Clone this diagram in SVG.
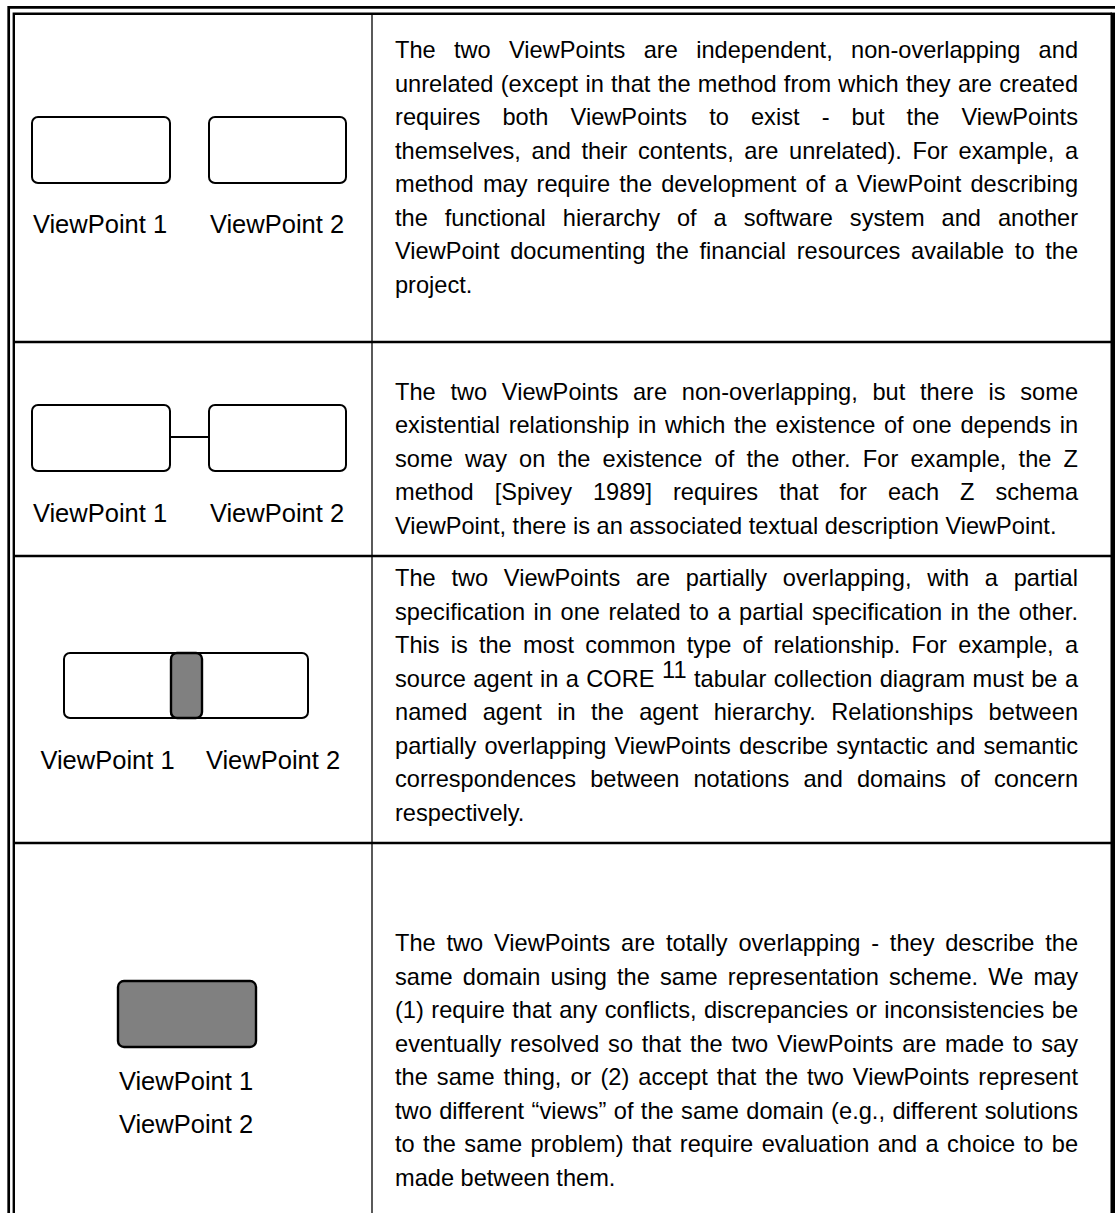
<svg xmlns="http://www.w3.org/2000/svg" width="1115" height="1213" viewBox="0 0 1115 1213">
<style>
.rule{stroke:#000;fill:none}
.box{fill:#fff;stroke:#000;stroke-width:2}
.ov{fill:#808080;stroke:#000;stroke-width:2.4}
.con{stroke:#000;stroke-width:2;fill:none}
.lbl{font-family:"Liberation Sans",Arial,sans-serif;font-size:25.5px;fill:#000;text-anchor:middle}
.body{font-family:"Liberation Sans",Arial,sans-serif;font-size:23.6px;fill:#000}
</style>
<rect width="1115" height="1213" fill="#fff"/>
<g id="frame">
<path class="rule" stroke-width="2.7" d="M8.7,1213 V7.3 H1115"/>
<path class="rule" stroke-width="2.4" d="M13.8,1213 V13.8 H1112"/>
<rect x="1110.5" y="12.6" width="4.5" height="1200.4" fill="#000"/>
<path class="rule" stroke-width="1.3" d="M372,13.8 V1213"/>
<path class="rule" stroke-width="2.7" d="M13.8,342 H1111 M13.8,556 H1111 M13.8,843 H1111"/>
</g>

<g id="row1-vp1"><rect class="box" x="32" y="117" width="138" height="66" rx="6"/><text class="lbl" x="100" y="233">ViewPoint 1</text></g>
<g id="row1-vp2"><rect class="box" x="209" y="117" width="137" height="66" rx="6"/><text class="lbl" x="277" y="233">ViewPoint 2</text></g>

<g id="row2-vp1"><rect class="box" x="32" y="405" width="138" height="66" rx="6"/><text class="lbl" x="100" y="522">ViewPoint 1</text></g>
<g id="row2-vp2"><rect class="box" x="209" y="405" width="137" height="66" rx="6"/><text class="lbl" x="277" y="522">ViewPoint 2</text></g>

<g id="row3-vp1"><rect class="box" x="64" y="653" width="138" height="65" rx="6"/><text class="lbl" x="107.5" y="769">ViewPoint 1</text></g>
<g id="row3-vp2"><rect class="box" x="171" y="653" width="137" height="65" rx="6"/><text class="lbl" x="273" y="769">ViewPoint 2</text></g>
<g id="row3-overlap"><rect class="ov" x="171" y="653" width="31" height="65" rx="6"/></g>

<g id="row4-vp12"><rect class="ov" x="118" y="981" width="138" height="66" rx="6"/><text class="lbl" x="186" y="1090">ViewPoint 1</text><text class="lbl" x="186" y="1133">ViewPoint 2</text></g>

<g id="connectors"><path class="con" d="M170,437 H209"/></g>

<g id="text-row1">
<text class="body" x="395" y="58" word-spacing="11.75" textLength="683" lengthAdjust="spacing">The two ViewPoints are independent, non-overlapping and</text>
<text class="body" x="395" y="91.5" word-spacing="0.75" textLength="683" lengthAdjust="spacing">unrelated (except in that the method from which they are created</text>
<text class="body" x="395" y="125" word-spacing="15.5" textLength="683" lengthAdjust="spacing">requires both ViewPoints to exist - but the ViewPoints</text>
<text class="body" x="395" y="158.5" word-spacing="4.05" textLength="683" lengthAdjust="spacing">themselves, and their contents, are unrelated). For example, a</text>
<text class="body" x="395" y="192" word-spacing="2.57" textLength="683" lengthAdjust="spacing">method may require the development of a ViewPoint describing</text>
<text class="body" x="395" y="225.5" word-spacing="10.4" textLength="683" lengthAdjust="spacing">the functional hierarchy of a software system and another</text>
<text class="body" x="395" y="259" word-spacing="4.07" textLength="683" lengthAdjust="spacing">ViewPoint documenting the financial resources available to the</text>
<text class="body" x="395" y="292.5">project.</text>
</g>

<g id="text-row2">
<text class="body" x="395" y="399.5" word-spacing="8.16" textLength="683" lengthAdjust="spacing">The two ViewPoints are non-overlapping, but there is some</text>
<text class="body" x="395" y="433" word-spacing="2.14" textLength="683" lengthAdjust="spacing">existential relationship in which the existence of one depends in</text>
<text class="body" x="395" y="466.5" word-spacing="5.57" textLength="683" lengthAdjust="spacing">some way on the existence of the other. For example, the Z</text>
<text class="body" x="395" y="500" word-spacing="14.4" textLength="683" lengthAdjust="spacing">method [Spivey 1989] requires that for each Z schema</text>
<text class="body" x="395" y="533.5">ViewPoint, there is an associated textual description ViewPoint.</text>
</g>

<g id="text-row3">
<text class="body" x="395" y="586" word-spacing="9.14" textLength="683" lengthAdjust="spacing">The two ViewPoints are partially overlapping, with a partial</text>
<text class="body" x="395" y="619.5" word-spacing="1.93" textLength="683" lengthAdjust="spacing">specification in one related to a partial specification in the other.</text>
<text class="body" x="395" y="653" word-spacing="4.79" textLength="683" lengthAdjust="spacing">This is the most common type of relationship. For example, a</text>
<text class="body" x="395" y="686.5" word-spacing="0.8" textLength="683" lengthAdjust="spacing">source agent in a CORE <tspan dy="-9">11</tspan><tspan dy="9"> tabular collection diagram must be a</tspan></text>
<text class="body" x="395" y="720" word-spacing="8.74" textLength="683" lengthAdjust="spacing">named agent in the agent hierarchy. Relationships between</text>
<text class="body" x="395" y="753.5" word-spacing="1.47" textLength="683" lengthAdjust="spacing">partially overlapping ViewPoints describe syntactic and semantic</text>
<text class="body" x="395" y="787" word-spacing="7.58" textLength="683" lengthAdjust="spacing">correspondences between notations and domains of concern</text>
<text class="body" x="395" y="820.5">respectively.</text>
</g>

<g id="text-row4">
<text class="body" x="395" y="951" word-spacing="4.19" textLength="683" lengthAdjust="spacing">The two ViewPoints are totally overlapping - they describe the</text>
<text class="body" x="395" y="984.5" word-spacing="3.56" textLength="683" lengthAdjust="spacing">same domain using the same representation scheme. We may</text>
<text class="body" x="395" y="1018" word-spacing="0.94" textLength="683" lengthAdjust="spacing">(1) require that any conflicts, discrepancies or inconsistencies be</text>
<text class="body" x="395" y="1051.5" word-spacing="2.19" textLength="683" lengthAdjust="spacing">eventually resolved so that the two ViewPoints are made to say</text>
<text class="body" x="395" y="1085" word-spacing="2.45" textLength="683" lengthAdjust="spacing">the same thing, or (2) accept that the two ViewPoints represent</text>
<text class="body" x="395" y="1118.5" word-spacing="0.83" textLength="683" lengthAdjust="spacing">two different “views” of the same domain (e.g., different solutions</text>
<text class="body" x="395" y="1152" word-spacing="1.86" textLength="683" lengthAdjust="spacing">to the same problem) that require evaluation and a choice to be</text>
<text class="body" x="395" y="1185.5">made between them.</text>
</g>
</svg>
